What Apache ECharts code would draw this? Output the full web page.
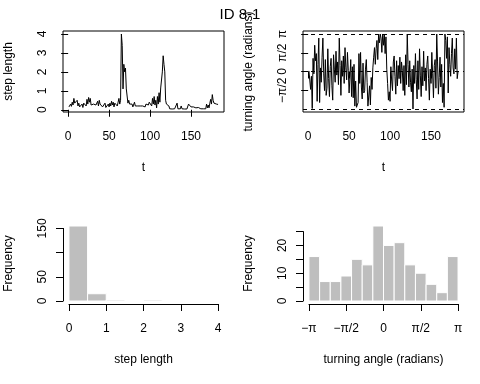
<!DOCTYPE html>
<html><head><meta charset="utf-8">
<script src="https://cdn.jsdelivr.net/npm/echarts@6/dist/echarts.min.js"></script>
<style>html,body{margin:0;padding:0;background:#fff}#c{width:480px;height:384px}</style>
</head><body><div id="c"></div>
<script>
// ---- data ----
const stepSeries = [
0.15,0.2,0.3,0.18,0.4,0.25,0.6,0.35,0.45,0.3,
0.5,0.2,0.35,0.15,0.25,0.2,0.3,0.12,0.35,0.25,
0.4,0.2,0.55,0.3,0.65,0.4,0.6,0.25,0.3,0.15,
0.3,0.2,0.35,0.25,0.3,0.45,0.2,0.5,0.3,0.2,
0.3,0.15,0.25,0.2,0.35,0.12,0.2,0.1,0.3,0.15,
0.35,0.2,0.45,0.25,0.4,0.15,0.35,0.25,0.3,0.2,
0.4,0.6,0.3,0.5,4.0,3.4,1.1,2.4,2.0,2.2,
1.1,1.05,0.35,0.5,0.3,0.4,0.2,0.3,0.15,0.25,
0.4,0.2,0.3,0.12,0.2,0.3,0.1,0.2,0.15,0.3,
0.2,0.1,0.25,0.15,0.3,0.2,0.35,0.25,0.4,0.3,
0.5,0.2,0.6,0.3,0.7,0.25,0.5,0.1,0.7,0.3,
0.9,0.4,1.15,1.2,2.0,2.85,2.4,2.0,0.5,0.3,
0.35,0.4,0.2,0.05,0.04,0.05,0.04,0.05,0.04,0.05,
0.04,0.05,0.35,0.05,0.04,0.05,0.05,0.2,0.05,0.04,
0.05,0.04,0.05,0.05,0.04,0.05,0.3,0.4,0.2,0.15,
0.2,0.1,0.15,0.1,0.05,0.1,0.08,0.05,0.12,0.05,
0.08,0.05,0.1,0.06,0.05,0.08,0.1,0.05,0.3,0.1,
0.25,0.1,0.35,0.55,0.3,0.8,0.5,0.35,0.45,0.25,
0.3,0.25,0.28];
const angleSeries = [
0.05,0.1,-1.5,-0.4,-3.1,1.1,-0.2,2.2,0.9,1.5,
-2.5,0.6,2.8,-2.6,0.3,-0.9,1.2,2.8,-0.2,-1.6,
1.0,-2.0,-1.4,1.9,-0.6,-2.1,0.4,1.1,-1.2,-2.4,
1.4,0.2,-0.9,1.7,-0.3,0.8,-1.1,2.8,0.5,-2.0,
0.9,-0.4,1.3,-1.0,2.0,0.3,-0.7,1.6,0.1,-1.8,
-0.5,1.0,-2.1,0.4,-2.2,0.6,-2.9,-0.8,-3.0,-3.1,
-2.6,1.5,-1.0,1.6,-1.3,-2.3,0.7,-1.8,-1.6,0.2,
1.0,-0.9,-2.9,-3.0,-1.2,-2.8,-0.5,-1.5,0.3,1.2,
2.0,0.6,1.9,2.6,1.0,3.1,2.4,3.14,2.8,1.6,
3.14,2.2,3.1,1.5,2.9,0.2,-1.0,-2.4,-1.7,-2.5,
0.4,-0.8,-1.6,0.8,1.3,-0.4,-1.9,0.9,-1.2,0.5,
-0.6,1.2,-1.0,0.8,0.1,-1.6,0.5,-2.0,1.4,-1.1,
3.14,0.6,-1.3,0.9,-0.9,-1.7,0.2,-3.14,0.5,-1.0,
1.5,-0.7,-2.3,0.9,-1.5,1.9,-0.3,-2.1,0.4,-1.2,
1.7,-0.8,0.3,-1.6,0.6,1.3,-0.6,-2.4,0.2,-1.0,
1.6,-0.2,-2.2,0.5,1.0,-1.4,3.14,0.8,-1.9,-0.5,
1.2,-1.3,0.6,-2.6,-1.0,-3.0,3.14,2.6,1.1,2.9,
-1.8,2.0,0.6,-0.4,1.5,2.8,0.3,-0.2,1.9,0.2,
2.8,-0.6,0.0];
const stepBreaks = [0,0.5,1,1.5,2,2.5,3,3.5,4];
const stepCounts = [155,15,2,0,2,0,0,0];
const angleCounts = [16,7,7,9,15,13,27,20,21,13,10,6,3,16];
const stepTicks = [0,1,2,3,4];
const tTicks = [0,50,100,150];
const piLabels = ['\u2212\u03c0','\u2212\u03c0/2','0','\u03c0/2','\u03c0'];
const freqLabelsStep = [0,50,150];
const freqLabelsAngle = [0,10,20];
const titleText = 'ID 8-1';

// ---- build ----
const PI = Math.PI;
const angleBreaks = angleCounts.map((_,i)=>-PI + i*2*PI/angleCounts.length).concat([PI]);
const n = stepSeries.length;
const ext = (a,b)=>[a-0.04*(b-a), b+0.04*(b-a)];
const FONT = 'Liberation Sans, Arial, sans-serif';
const txt = {color:'#000', fontSize:12, fontFamily:FONT};
const tickStyle = {lineStyle:{color:'#000', width:1}, length:7};

const tR = ext(1, n);
const sR = ext(Math.min(...stepSeries), Math.max(...stepSeries));
const aR = ext(-PI, PI);
const hsR = ext(0, Math.max(...stepCounts));
const hsX = ext(0, 4);
const haR = ext(0, Math.max(...angleCounts));

const P = {L1:63, L2:303, T1:31, T2:223, W:161, H:81};

function sub(L, T, W, H, xr, yr, x0, x1, y0, y1){
  const l = L + (x0-xr[0])/(xr[1]-xr[0])*W;
  const r = L + (x1-xr[0])/(xr[1]-xr[0])*W;
  const t = T + (yr[1]-y1)/(yr[1]-yr[0])*H;
  const b = T + (yr[1]-y0)/(yr[1]-yr[0])*H;
  return {left:l, top:t, width:r-l, height:b-t};
}

const grids = [
  {left:P.L1, top:P.T1, width:P.W, height:P.H, show:true, borderColor:'#000', borderWidth:1},
  {left:P.L2, top:P.T1, width:P.W, height:P.H, show:true, borderColor:'#000', borderWidth:1},
  {left:P.L1, top:P.T2, width:P.W, height:P.H},
  {left:P.L2, top:P.T2, width:P.W, height:P.H},
];
const g3x = sub(P.L1,P.T2,P.W,P.H,hsX,hsR,0,4,hsR[0],hsR[1]); g3x.top=P.T2; g3x.height=P.H;
const g3y = sub(P.L1,P.T2,P.W,P.H,hsX,hsR,hsX[0],hsX[1],0,150);
const g4x = sub(P.L2,P.T2,P.W,P.H,aR,haR,-PI,PI,haR[0],haR[1]); g4x.top=P.T2; g4x.height=P.H;
const g4y = sub(P.L2,P.T2,P.W,P.H,aR,haR,aR[0],aR[1],0,25);
grids.push(g3x,g3y,g4x,g4y);

const XM = 19, YM = 14;
const hidden = (gi, mn, mx)=>({gridIndex:gi, type:'value', min:mn, max:mx, show:false, splitLine:{show:false}});
const xAxes = [
  {gridIndex:0, type:'value', min:tR[0], max:tR[1], axisLine:{show:false}, splitLine:{show:false},
   axisTick:Object.assign({customValues:tTicks}, tickStyle), axisLabel:Object.assign({customValues:tTicks, margin:XM}, txt)},
  {gridIndex:1, type:'value', min:tR[0], max:tR[1], axisLine:{show:false}, splitLine:{show:false},
   axisTick:Object.assign({customValues:tTicks}, tickStyle), axisLabel:Object.assign({customValues:tTicks, margin:XM}, txt)},
  hidden(2, hsX[0], hsX[1]),
  hidden(3, aR[0], aR[1]),
  {gridIndex:4, type:'value', min:0, max:4, interval:1, axisLine:{lineStyle:{color:'#000'}}, splitLine:{show:false},
   axisTick:tickStyle, axisLabel:Object.assign({margin:XM}, txt)},
  hidden(5, 0, 1),
  {gridIndex:6, type:'value', min:-2, max:2, interval:1, axisLine:{lineStyle:{color:'#000'}}, splitLine:{show:false},
   axisTick:tickStyle, axisLabel:Object.assign({margin:XM, formatter:v=>piLabels[Math.round(v)+2]}, txt)},
  hidden(7, 0, 1),
];
const rotLab = (extra)=>Object.assign({rotate:90, margin:YM}, txt, extra);
const yAxes = [
  {gridIndex:0, type:'value', min:sR[0], max:sR[1], axisLine:{show:false}, splitLine:{show:false},
   axisTick:Object.assign({customValues:stepTicks}, tickStyle), axisLabel:rotLab({customValues:stepTicks})},
  {gridIndex:1, type:'value', min:aR[0], max:aR[1], axisLine:{show:false}, splitLine:{show:false},
   axisTick:Object.assign({customValues:[-PI,-PI/2,0,PI/2,PI]}, tickStyle),
   axisLabel:rotLab({customValues:[-PI,-PI/2,0,PI/2,PI], formatter:v=>piLabels[Math.round(v/(PI/2))+2]})},
  hidden(2, hsR[0], hsR[1]),
  hidden(3, haR[0], haR[1]),
  hidden(4, 0, 1),
  {gridIndex:5, type:'value', min:0, max:150, interval:50, axisLine:{lineStyle:{color:'#000'}}, splitLine:{show:false},
   axisTick:tickStyle, axisLabel:rotLab({customValues:freqLabelsStep})},
  hidden(6, 0, 1),
  {gridIndex:7, type:'value', min:0, max:25, interval:5, axisLine:{lineStyle:{color:'#000'}}, splitLine:{show:false},
   axisTick:tickStyle, axisLabel:rotLab({customValues:freqLabelsAngle})},
];

function histSeries(breaks, counts, xi, yi){
  return {type:'custom', xAxisIndex:xi, yAxisIndex:yi, silent:true, animation:false,
    data:counts.map((c,i)=>[breaks[i], breaks[i+1], c]),
    encode:{x:[0,1], y:2},
    renderItem:(params, api)=>{
      const p0 = api.coord([api.value(0), api.value(2)]);
      const p1 = api.coord([api.value(1), 0]);
      return {type:'rect', shape:{x:p0[0], y:p0[1], width:p1[0]-p0[0], height:p1[1]-p0[1]},
        style:{fill:'#BEBEBE', stroke:'#fff', lineWidth:1}};
    }};
}

const series = [
  {type:'line', xAxisIndex:0, yAxisIndex:0, data:stepSeries.map((v,i)=>[i+1,v]), showSymbol:false, symbol:'none',
   lineStyle:{color:'#000', width:1}, animation:false, silent:true},
  {type:'line', xAxisIndex:1, yAxisIndex:1, data:angleSeries.map((v,i)=>[i+1,v]), showSymbol:false, symbol:'none',
   lineStyle:{color:'#000', width:1}, animation:false, silent:true,
   markLine:{silent:true, symbol:'none', animation:false, label:{show:false},
     lineStyle:{color:'#000', width:1, type:[4,4]},
     data:[{yAxis:-PI},{yAxis:0},{yAxis:PI}]}},
  histSeries(stepBreaks, stepCounts, 2, 2),
  histSeries(angleBreaks, angleCounts, 3, 3),
];

const T = (text, x, y, rot, size)=>({type:'text', x, y, rotation:rot?PI/2:0, silent:true,
  style:{text, x:0, y:0, align:'center', verticalAlign:'middle', fill:'#000', font:(size||12)+'px '+FONT}});
const graphic = [
  T(titleText, 240, 15, false, 15),
  T('step length', 9, P.T1+P.H/2, true),
  T('turning angle (radians)', 249, P.T1+P.H/2, true),
  T('t', P.L1+P.W/2, 168, false),
  T('t', P.L2+P.W/2, 168, false),
  T('Frequency', 9, P.T2+P.H/2, true),
  T('Frequency', 249, P.T2+P.H/2, true),
  T('step length', P.L1+P.W/2, 360, false),
  T('turning angle (radians)', P.L2+P.W/2, 360, false),
];

const chart = echarts.init(document.getElementById('c'), null, {renderer:'canvas'});
chart.setOption({animation:false, backgroundColor:'#fff', grid:grids, xAxis:xAxes, yAxis:yAxes, series, graphic});
</script></body></html>
